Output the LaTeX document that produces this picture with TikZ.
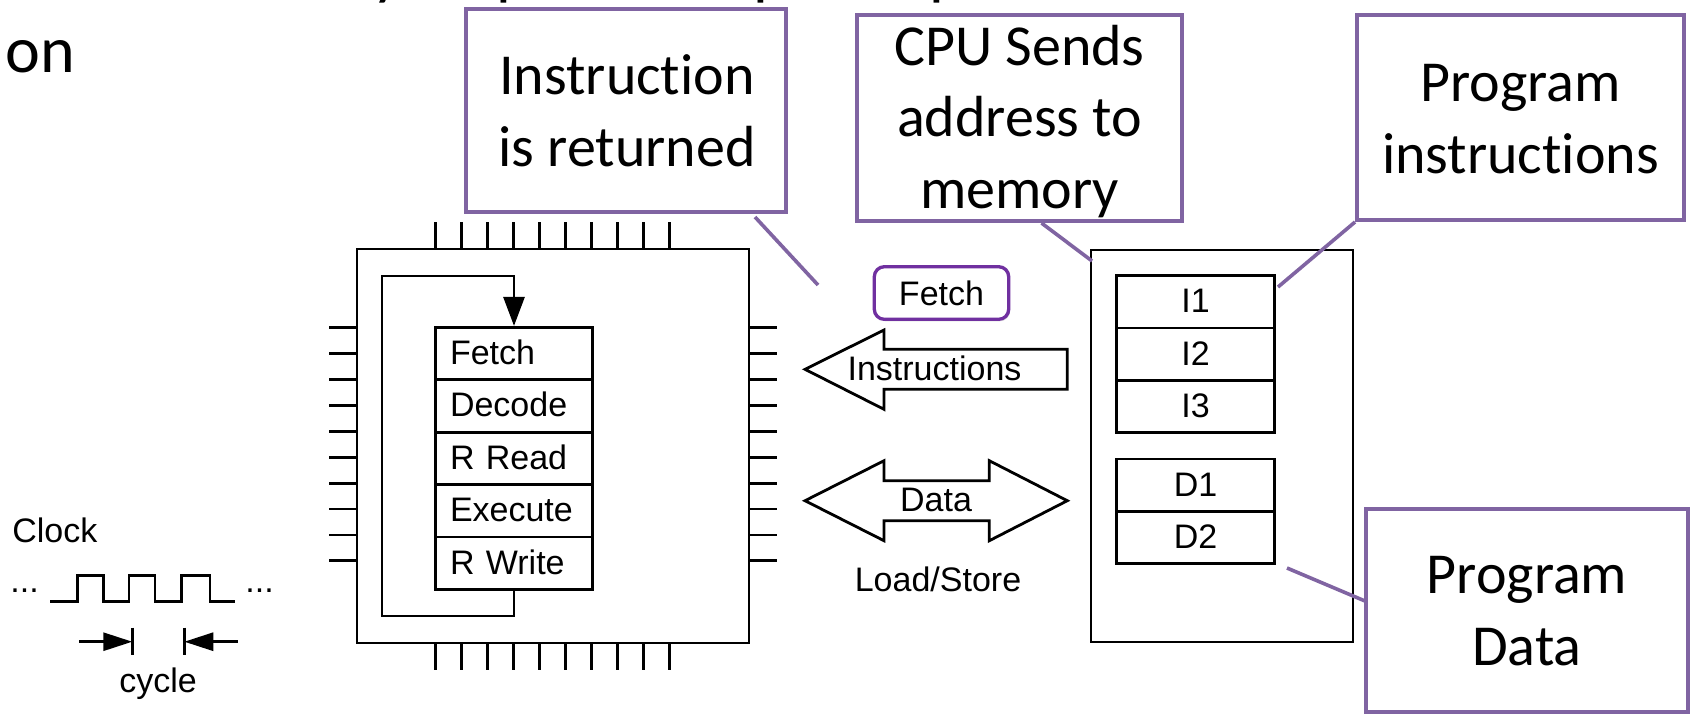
\documentclass[tikz,border=0pt]{standalone}
\usepackage{fontspec}
\setmainfont{Liberation Sans}
\newfontfamily\callfont[Ligatures=NoCommon]{Carlito}
\usetikzlibrary{arrows.meta,shadows}
\definecolor{calloutpurple}{HTML}{8064A2}
\definecolor{fetchpurple}{HTML}{7030A0}

\tikzset{
  wire/.style={line width=1.4pt, draw=black},
  label17/.style={font=\fontsize{17pt}{20pt}\selectfont, inner sep=0pt, text height=11pt, text depth=0pt},
  stagebox/.style={draw, line width=1.4pt, label17, text width=64pt, align=left,
                   inner xsep=7.35pt, inner ysep=0pt, minimum height=26.2pt},
  cellbox/.style={draw, line width=1.4pt, label17, minimum width=78.8pt,
                  minimum height=26.1pt, inner sep=0pt},
  callout/.style={draw=calloutpurple, line width=2pt, fill=white, inner sep=0pt},
  calltext/.style={font=\callfont\fontsize{29pt}{35pt}\selectfont, inner sep=0pt, anchor=base},
  pointer/.style={draw=calloutpurple, line width=1.8pt},
  clocktext/.style={font=\fontsize{17pt}{20pt}\selectfont, inner sep=0pt},
  headline/.style={font=\callfont\fontsize{33pt}{40pt}\selectfont, inner sep=0pt, anchor=base west},
  fetchtag/.style={draw=fetchpurple, line width=1.65pt, rounded corners=5pt, fill=white,
                   minimum width=67.2pt, minimum height=26.3pt, inner sep=0pt,
                   font=\fontsize{17pt}{20pt}\selectfont, text height=12pt, text depth=0pt,
                   drop shadow={shadow xshift=0.6pt, shadow yshift=-1pt, opacity=0.25}},
}

\begin{document}
\begin{tikzpicture}[x=0.5pt,y=-0.5pt]
\fill[white] (0,0) rectangle (1690,714);
\useasboundingbox (0,0) rectangle (1690,714);

% heading text running off the top edge
\node[headline] (hy) at (372,-8) {y};
\node[headline] (hp1) at (496,-8) {p};
\node[headline] (hp2) at (753,-8) {p};
\node[headline] (hp3) at (929,-8) {p};
\node[headline] (hon) at (5,72.7) {on};

% ---------------- processor chip ----------------
\node[wire, draw, minimum width=196pt, minimum height=197pt, inner sep=0pt] (cpu) at (553,446) {};
\foreach \i in {0,...,9}{
  \draw[wire] (435.3+26*\i,222) -- (435.3+26*\i,249);
  \draw[wire] (435.3+26*\i,643) -- (435.3+26*\i,670);
  \draw[wire] (329,327.7+25.9*\i) -- (357,327.7+25.9*\i);
  \draw[wire] (749,327.7+25.9*\i) -- (777,327.7+25.9*\i);
}

% pipeline stages
\node[stagebox] (fe) at (514,353.5) {Fetch};
\node[stagebox] (de) at (514,405.9) {Decode};
\node[stagebox] (rr) at (514,458.3) {R Read};
\node[stagebox] (ex) at (514,510.7) {Execute};
\node[stagebox] (rw) at (514,563.1) {R Write};

% loop back from the last stage to the first
\coordinate (lb) at (382,616);
\coordinate (lt) at (382,276);
\draw[wire, -{Triangle[length=14.5pt,width=10.5pt]}] (rw.south) |- (lb) -- (lt) -| (fe.north);

% ---------------- clock ----------------
\node[clocktext, anchor=base west] (clk) at (12,542) {Clock};
\draw[wire] (50,601.7) -- (77.7,601.7) -- (77.7,575.7) -- (103.3,575.7) -- (103.3,601.7)
  -- (129,601.7) -- (129,575.7) -- (155,575.7) -- (155,601.7) -- (181.7,601.7)
  -- (181.7,575.7) -- (210,575.7) -- (210,601.7) -- (235,601.7);
\node[clocktext, anchor=base west] (dotsl) at (10,592) {...};
\node[clocktext, anchor=base west] (dotsr) at (245,592) {...};
\coordinate (barl) at (132.3,641.7);
\coordinate (barr) at (184.3,641.7);
\coordinate (arrl) at (79,641.7);
\coordinate (arrr) at (237.7,641.7);
\draw[wire] (132.3,627.7) -- (132.3,655);
\draw[wire] (184.3,627.7) -- (184.3,655);
\draw[wire, -{Triangle[length=14.5pt,width=9pt]}] (arrl) -- (barl);
\draw[wire, -{Triangle[length=14.5pt,width=9pt]}] (arrr) -- (barr);
\node[clocktext, anchor=base] (cyc) at (158,692) {cycle};

% ---------------- buses ----------------
\draw[wire, fill=white] (805,369.3) -- (884,330) -- (884,349.3) -- (1067.3,349.3)
  -- (1067.3,389.3) -- (884,389.3) -- (884,409.3) -- cycle;
\node[label17] (instr) at (934.5,369.3) {Instructions};

\draw[wire, fill=white] (805,500.7) -- (884,460.7) -- (884,480.7) -- (989.3,480.7)
  -- (989.3,460.7) -- (1067.3,500.7) -- (989.3,540.7) -- (989.3,520.7)
  -- (884,520.7) -- (884,540.7) -- cycle;
\node[label17] (data) at (936,500.7) {Data};
\node[label17, anchor=base, text height=] (ls) at (938,591.7) {Load/Store};

\node[fetchtag] (ftag) at (941.5,293) {Fetch};

% ---------------- memory ----------------
\node[wire, draw, minimum width=131pt, minimum height=196pt, inner sep=0pt] (mem) at (1222,446) {};
\node[cellbox] (i1) at (1195.5,301.85) {I1};
\node[cellbox] (i2) at (1195.5,354) {I2};
\node[cellbox] (i3) at (1195.5,406.15) {I3};
\node[cellbox] (d1) at (1195.5,485.1) {D1};
\node[cellbox] (d2) at (1195.5,537.3) {D2};

% ---------------- callouts ----------------
\node[callout, minimum width=160pt, minimum height=101.5pt] (c1) at (626,110.5) {};
\node[calltext] (c1a) at (627,94) {Instruction};
\node[calltext] (c1b) at (627,166) {is returned};
\coordinate (c1root) at (755,217);
\coordinate (c1tip) at (818,285);
\draw[pointer] (c1root) -- (c1tip);

\node[callout, minimum width=162.5pt, minimum height=103pt] (c2) at (1019.5,118) {};
\node[calltext] (c2a) at (1019.5,65) {CPU Sends};
\node[calltext] (c2b) at (1019.5,136.5) {address to};
\node[calltext] (c2c) at (1019.5,208) {memory};
\coordinate (c2root) at (1041.5,223);
\coordinate (c2tip) at (1092,261);
\draw[pointer] (c2root) -- (c2tip);

\node[callout, minimum width=163.5pt, minimum height=102.5pt] (c3) at (1520.5,117.5) {};
\node[calltext] (c3a) at (1520.5,101.5) {Program};
\node[calltext] (c3b) at (1520.5,173) {instructions};
\coordinate (c3tip) at (1278,287);
\draw[pointer] (c3.south west) -- (c3tip);

\node[callout, minimum width=161pt, minimum height=101.5pt] (c4) at (1527,610.5) {};
\node[calltext] (c4a) at (1527,593) {Program};
\node[calltext] (c4b) at (1527,665) {Data};
\coordinate (c4root) at (1365,601);
\coordinate (c4tip) at (1287,568);
\draw[pointer] (c4root) -- (c4tip);
\end{tikzpicture}
\end{document}
